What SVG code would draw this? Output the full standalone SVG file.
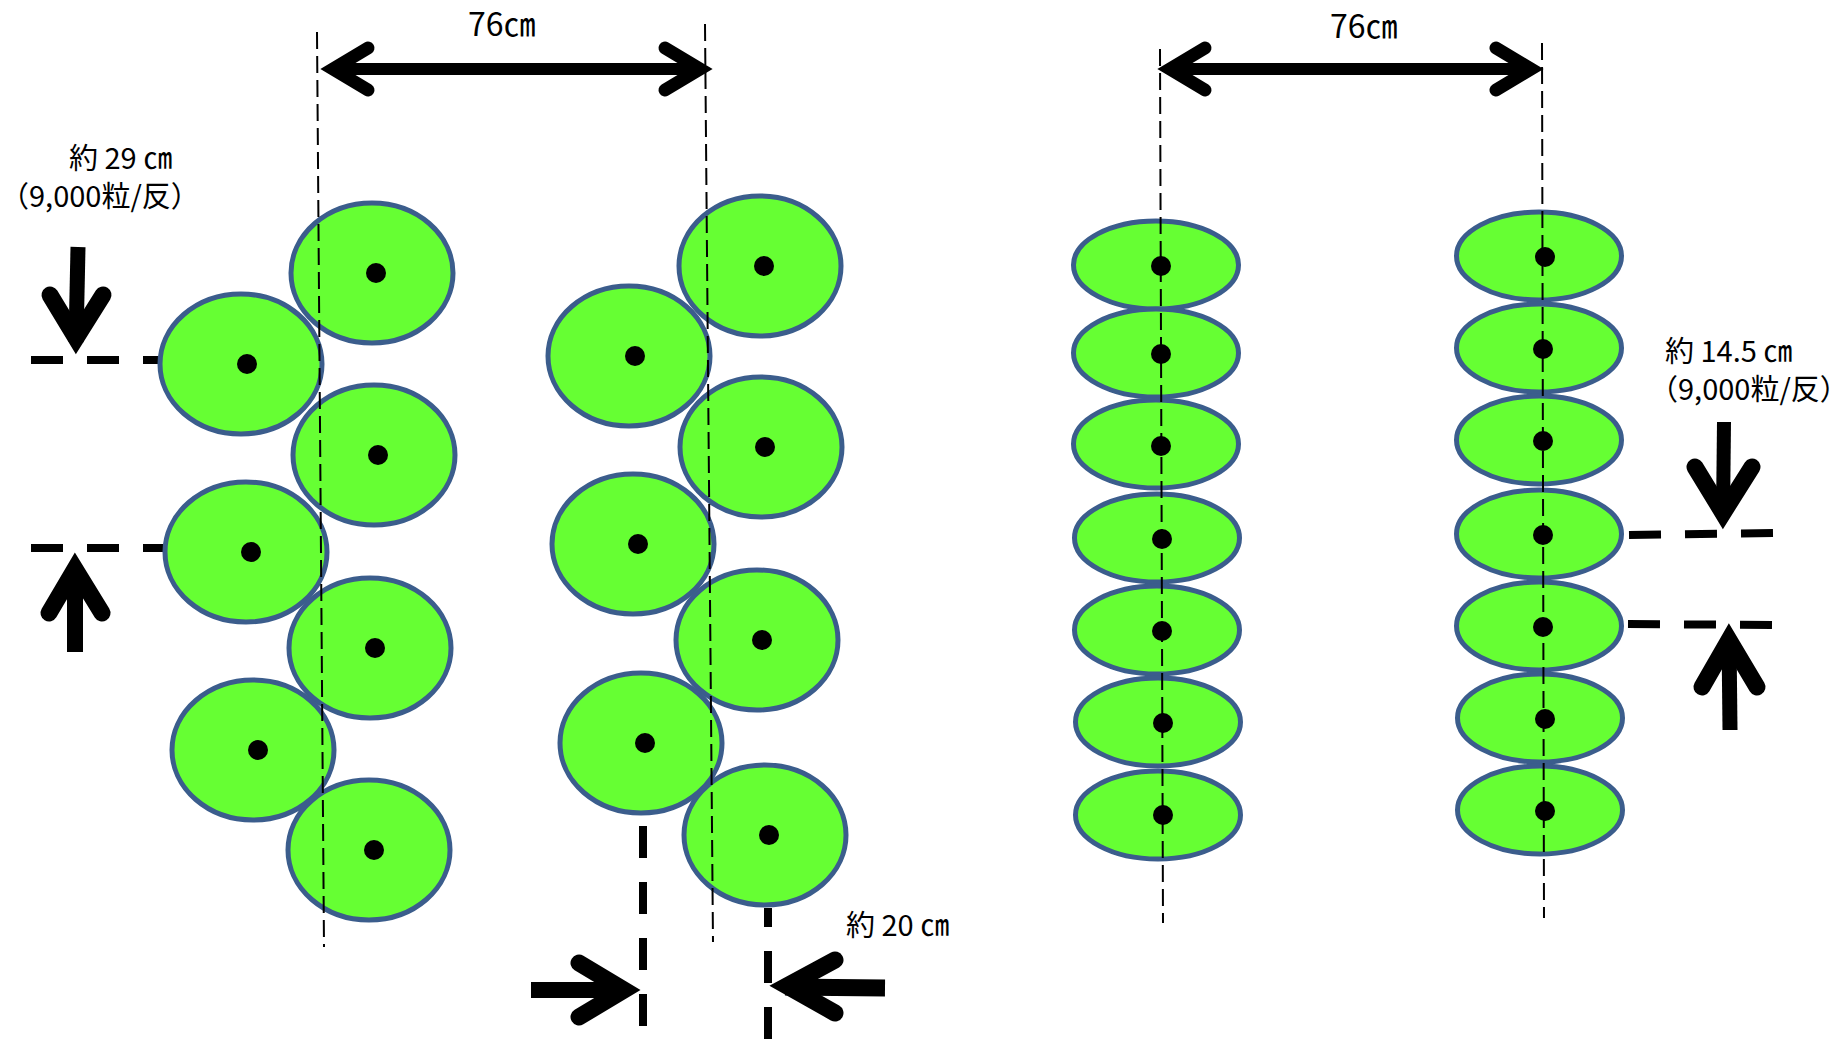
<svg xmlns="http://www.w3.org/2000/svg" width="1847" height="1039" viewBox="0 0 1847 1039">
<style>
.seed{fill:#66FF33;stroke:#3B5D8C;stroke-width:5}
.dot{fill:#000}
.guide{stroke:#000;stroke-width:2;stroke-dasharray:17 7;fill:none}
.mark{stroke:#000;stroke-width:8;stroke-dasharray:32 24;fill:none}
.shaft{stroke:#000;fill:none;stroke-linecap:butt}
.head{stroke:#000;fill:none;stroke-linecap:round;stroke-linejoin:miter;stroke-miterlimit:6}
.lbl{font-family:"Noto Sans CJK JP","Noto Sans",sans-serif;font-size:29px;fill:#000}
.big{font-family:"Noto Sans CJK JP","Noto Sans",sans-serif;font-size:32px;fill:#000}
</style>
<rect width="1847" height="1039" fill="#fff"/>

<g id="marks">
<line class="mark" x1="31" y1="360" x2="160" y2="360"/>
<line class="mark" x1="31" y1="548" x2="163" y2="548"/>
<line class="mark" x1="643" y1="826" x2="643" y2="1026"/>
<line class="mark" x1="768" y1="908" x2="768" y2="1039" stroke-dashoffset="13"/>
<line class="mark" x1="1629" y1="535" x2="1773" y2="533"/>
<line class="mark" x1="1628" y1="624" x2="1772" y2="625"/>
</g>

<g id="row-a">
<ellipse class="seed" cx="372" cy="273" rx="81" ry="70"/><circle class="dot" cx="376" cy="273" r="10"/>
<ellipse class="seed" cx="241" cy="364" rx="81" ry="70"/><circle class="dot" cx="247" cy="364" r="10"/>
<ellipse class="seed" cx="374" cy="455" rx="81" ry="70"/><circle class="dot" cx="378" cy="455" r="10"/>
<ellipse class="seed" cx="246" cy="552" rx="81" ry="70"/><circle class="dot" cx="251" cy="552" r="10"/>
<ellipse class="seed" cx="370" cy="648" rx="81" ry="70"/><circle class="dot" cx="375" cy="648" r="10"/>
<ellipse class="seed" cx="253" cy="750" rx="81" ry="70"/><circle class="dot" cx="258" cy="750" r="10"/>
<ellipse class="seed" cx="369" cy="850" rx="81" ry="70"/><circle class="dot" cx="374" cy="850" r="10"/>
</g>

<g id="row-b">
<ellipse class="seed" cx="760" cy="266" rx="81" ry="70"/><circle class="dot" cx="764" cy="266" r="10"/>
<ellipse class="seed" cx="629" cy="356" rx="81" ry="70"/><circle class="dot" cx="635" cy="356" r="10"/>
<ellipse class="seed" cx="761" cy="447" rx="81" ry="70"/><circle class="dot" cx="765" cy="447" r="10"/>
<ellipse class="seed" cx="633" cy="544" rx="81" ry="70"/><circle class="dot" cx="638" cy="544" r="10"/>
<ellipse class="seed" cx="757" cy="640" rx="81" ry="70"/><circle class="dot" cx="762" cy="640" r="10"/>
<ellipse class="seed" cx="641" cy="743" rx="81" ry="70"/><circle class="dot" cx="645" cy="743" r="10"/>
<ellipse class="seed" cx="765" cy="835" rx="81" ry="70"/><circle class="dot" cx="769" cy="835" r="10"/>
</g>

<g id="row-c">
<ellipse class="seed" cx="1156" cy="265" rx="82.5" ry="44"/><circle class="dot" cx="1161" cy="266" r="10"/>
<ellipse class="seed" cx="1156" cy="353" rx="82.5" ry="44"/><circle class="dot" cx="1161" cy="354" r="10"/>
<ellipse class="seed" cx="1156" cy="444" rx="82.5" ry="44"/><circle class="dot" cx="1161" cy="446" r="10"/>
<ellipse class="seed" cx="1157" cy="538" rx="82.5" ry="44"/><circle class="dot" cx="1162" cy="539" r="10"/>
<ellipse class="seed" cx="1157" cy="630" rx="82.5" ry="44"/><circle class="dot" cx="1162" cy="631" r="10"/>
<ellipse class="seed" cx="1158" cy="722" rx="82.5" ry="44"/><circle class="dot" cx="1163" cy="723" r="10"/>
<ellipse class="seed" cx="1158" cy="815" rx="82.5" ry="44"/><circle class="dot" cx="1163" cy="815" r="10"/>
</g>

<g id="row-d">
<ellipse class="seed" cx="1539" cy="256" rx="82.5" ry="44"/><circle class="dot" cx="1545" cy="257" r="10"/>
<ellipse class="seed" cx="1539" cy="348" rx="82.5" ry="44"/><circle class="dot" cx="1543" cy="349" r="10"/>
<ellipse class="seed" cx="1539" cy="440" rx="82.5" ry="44"/><circle class="dot" cx="1543" cy="441" r="10"/>
<ellipse class="seed" cx="1539" cy="534" rx="82.5" ry="44"/><circle class="dot" cx="1543" cy="535" r="10"/>
<ellipse class="seed" cx="1539" cy="626" rx="82.5" ry="44"/><circle class="dot" cx="1543" cy="627" r="10"/>
<ellipse class="seed" cx="1540" cy="718" rx="82.5" ry="44"/><circle class="dot" cx="1545" cy="719" r="10"/>
<ellipse class="seed" cx="1540" cy="810" rx="82.5" ry="44"/><circle class="dot" cx="1545" cy="811" r="10"/>
</g>

<g id="connectors">
<line class="guide" x1="317" y1="32" x2="324" y2="947"/>
<line class="guide" x1="705" y1="24" x2="713" y2="942"/>
<line class="guide" x1="1160" y1="49" x2="1163" y2="923"/>
<line class="guide" x1="1542" y1="43" x2="1544" y2="918"/>

<line class="shaft" x1="333" y1="69" x2="700" y2="69" stroke-width="12"/>
<polyline class="head" points="368,48 333,69 368,90" stroke-width="13"/>
<polyline class="head" points="665,48 700,69 665,90" stroke-width="13"/>

<line class="shaft" x1="1170" y1="69" x2="1531" y2="69" stroke-width="12"/>
<polyline class="head" points="1205,48 1170,69 1205,90" stroke-width="13"/>
<polyline class="head" points="1496,48 1531,69 1496,90" stroke-width="13"/>

<line class="shaft" x1="78" y1="247" x2="76" y2="342" stroke-width="15"/>
<polyline class="head" points="50,295 76,338 103,295" stroke-width="17"/>
<line class="shaft" x1="75" y1="652" x2="75" y2="566" stroke-width="16"/>
<polyline class="head" points="49,613 75,569 102,613" stroke-width="17"/>

<line class="shaft" x1="531" y1="990" x2="626" y2="990" stroke-width="16"/>
<polyline class="head" points="579,963 624,990 579,1017" stroke-width="17"/>
<line class="shaft" x1="885" y1="988" x2="785" y2="987" stroke-width="17"/>
<polyline class="head" points="835,960 787,986 835,1013" stroke-width="17"/>

<line class="shaft" x1="1724" y1="422" x2="1723" y2="516" stroke-width="14"/>
<polyline class="head" points="1695,467 1723,513 1752,467" stroke-width="17"/>
<line class="shaft" x1="1730" y1="730" x2="1729" y2="638" stroke-width="15"/>
<polyline class="head" points="1702,687 1729,640 1757,687" stroke-width="17"/>
</g>

<g id="labels">
<text class="big" x="468" y="36">76㎝</text>
<text class="big" x="1330" y="38">76㎝</text>
<text class="lbl" x="69" y="169">約 29 ㎝</text>
<text class="lbl" x="0" y="207">（9,000粒/反）</text>
<text class="lbl" x="1665" y="362">約 14.5 ㎝</text>
<text class="lbl" x="1649" y="400">（9,000粒/反）</text>
<text class="lbl" x="846" y="936">約 20 ㎝</text>
</g>
</svg>
